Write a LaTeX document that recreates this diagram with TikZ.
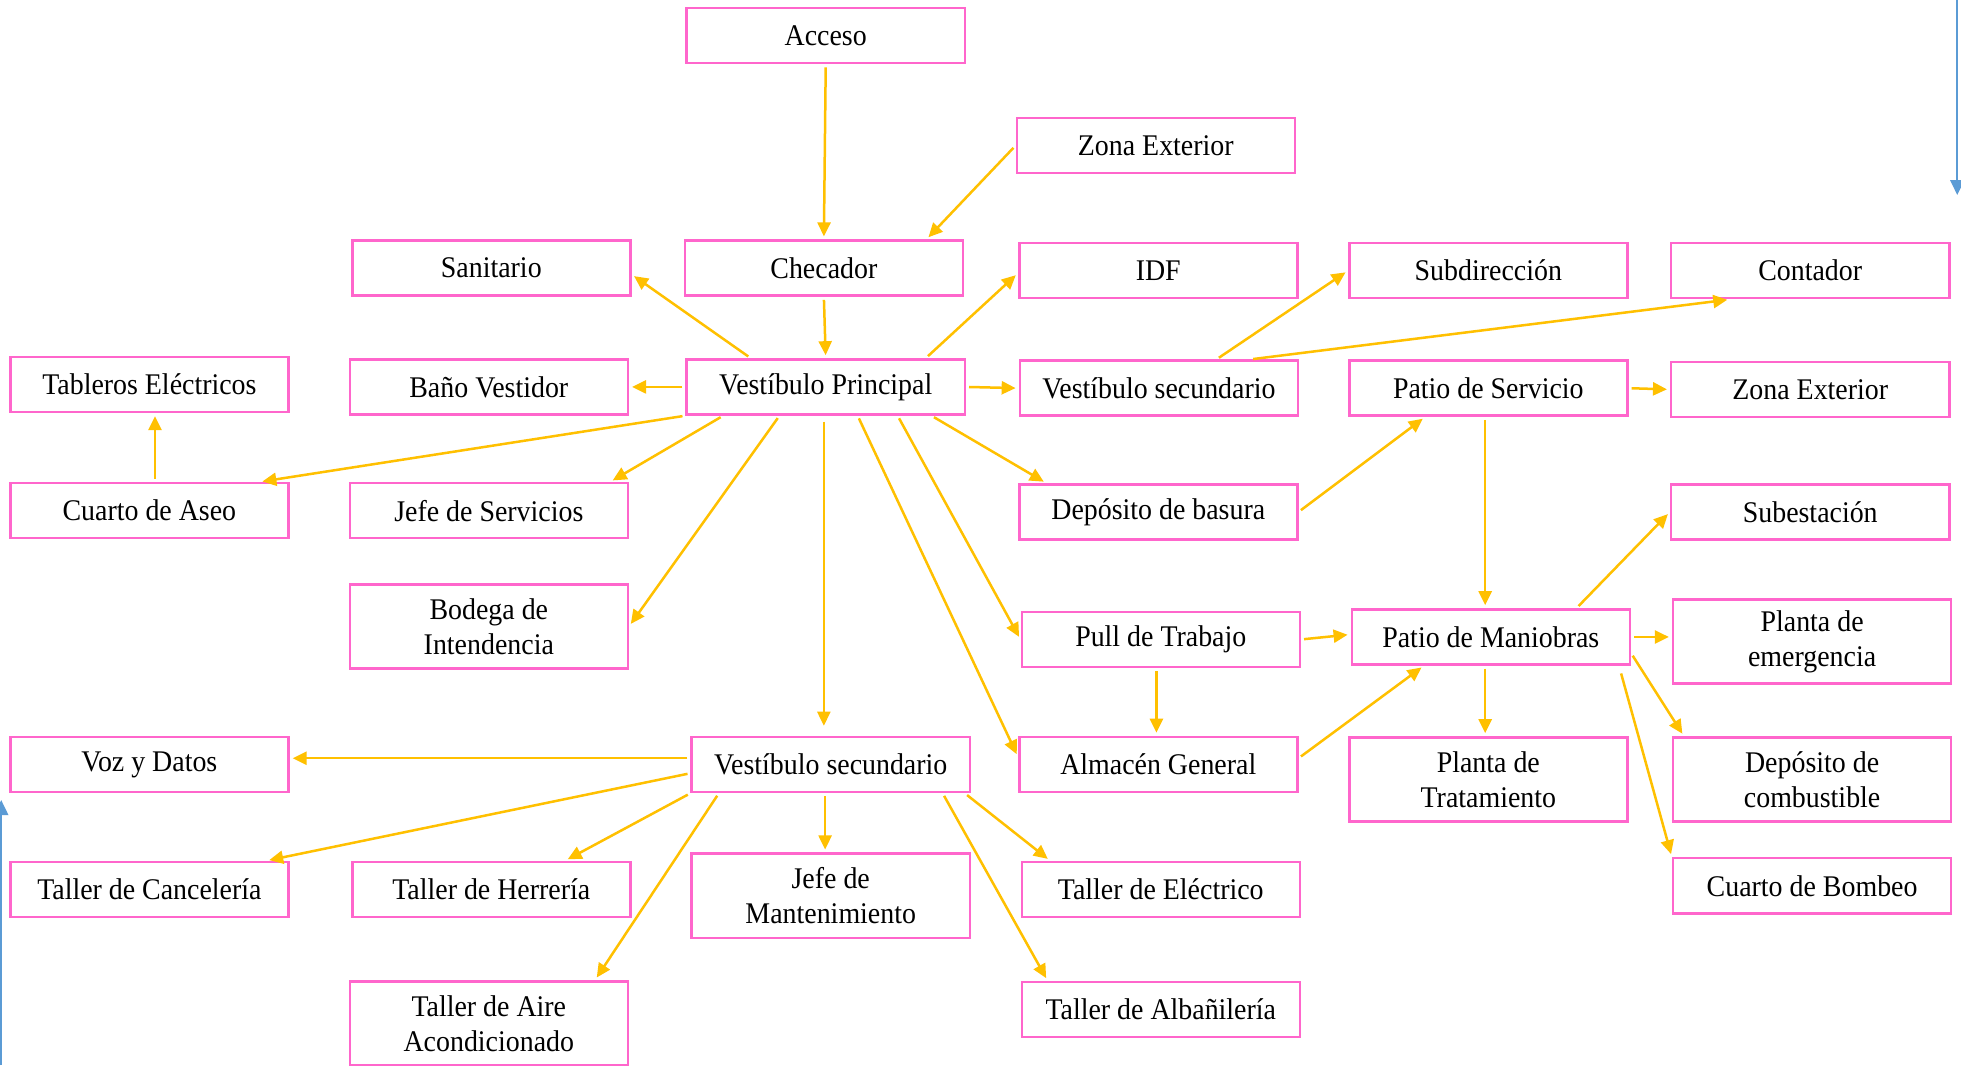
\documentclass[tikz,border=0pt]{standalone}
\usepackage{fontspec}
\setmainfont{Liberation Serif}[FakeStretch=0.93]
\usetikzlibrary{arrows.meta}
\definecolor{boxpink}{HTML}{FF66CC}
\definecolor{arrowgold}{HTML}{FFC000}
\definecolor{linkblue}{HTML}{5B9BD5}

\begin{document}
\begin{tikzpicture}[
        x=0.625pt, y=-0.625pt,
        room/.style={rectangle, draw=boxpink, line width=1.25pt, fill=white, minimum width=139pt, minimum height=27.5pt, inner sep=1pt, align=center, font=\fontsize{15}{17.5}\selectfont},
        tallroom/.style={room, minimum height=42pt},
        arrow/.style={-{Triangle[length=7pt, width=6.5pt]}, draw=arrowgold, line width=1.25pt, shorten <=1.5pt, shorten >=1.5pt},
        link/.style={-{Triangle[length=7.5pt, width=7pt]}, draw=linkblue, line width=1pt}
    ]
    \fill[white] (0,0) rectangle (1568.6,852);
    \useasboundingbox (0,0) rectangle (1568.6,852);

    \node (acceso) [room] at (660.5,28.5) {Acceso};
    \node (extnorte) [room] at (924.5,116.5) {Zona Exterior};
    \node (sanitario) [room] at (393,214.5) {Sanitario};
    \node (checador) [room] at (659,214.5) {Checador};
    \node (idf) [room] at (926.5,216.5) {IDF};
    \node (subdir) [room] at (1190.5,216.5) {Subdirección};
    \node (contador) [room] at (1448,216.5) {Contador};
    \node (tableros) [room] at (119.5,307.5) {Tableros Eléctricos};
    \node (bano) [room] at (391,309.5) {Baño Vestidor};
    \node (vprin) [room] at (660.5,309.5) {Vestíbulo Principal};
    \node (vsecA) [room] at (927,310.5) {Vestíbulo secundario};
    \node (pservicio) [room] at (1190.5,310.5) {Patio de Servicio};
    \node (extsur) [room] at (1448,311.5) {Zona Exterior};
    \node (aseo) [room] at (119.5,408.5) {Cuarto de Aseo};
    \node (jservicios) [room] at (391,408.5) {Jefe de Servicios};
    \node (basura) [room] at (926.5,409.5) {Depósito de basura};
    \node (subest) [room] at (1448,409.5) {Subestación};
    \node (bodega) [tallroom] at (391,501) {Bodega de\\Intendencia};
    \node (pull) [room] at (928.5,511.5) {Pull de Trabajo};
    \node (maniobras) [room] at (1192.5,509.5) {Patio de Maniobras};
    \node (emergencia) [tallroom] at (1449.5,513) {Planta de\\emergencia};
    \node (voz) [room] at (119.5,611.5) {Voz y Datos};
    \node (vsecB) [room] at (664.5,611.5) {Vestíbulo secundario};
    \node (almacen) [room] at (926.5,611.5) {Almacén General};
    \node (tratamiento) [tallroom] at (1190.5,623.5) {Planta de\\Tratamiento};
    \node (combustible) [tallroom] at (1449.5,623.5) {Depósito de\\combustible};
    \node (canceleria) [room] at (119.5,711.5) {Taller de Cancelería};
    \node (herreria) [room] at (393,711.5) {Taller de Herrería};
    \node (jmant) [tallroom] at (664.5,716.5) {Jefe de\\Mantenimiento};
    \node (electrico) [room] at (928.5,711.5) {Taller de Eléctrico};
    \node (bombeo) [room] at (1449.5,708.5) {Cuarto de Bombeo};
    \node (aire) [tallroom] at (391,818.5) {Taller de Aire\\Acondicionado};
    \node (albanil) [room] at (928.5,807.5) {Taller de Albañilería};

    % entrada
    \draw [arrow] (acceso.south) -- (checador.north);
    \draw [arrow] (extnorte.west) -- ([shift={(82,0)}]checador.north);
    \draw [arrow] (checador.south) -- (vprin.north);

    % vestibulo principal
    \draw [arrow] ([shift={(-60,0)}]vprin.north) -- ([shift={(0,5)}]sanitario.east);
    \draw [arrow] ([shift={(80,0)}]vprin.north) -- ([shift={(0,2)}]idf.west);
    \draw [arrow] (vprin.west) -- (bano.east);
    \draw [arrow] (vprin.east) -- (vsecA.west);
    \draw [arrow] (vprin.south west) -- ([shift={(88,0)}]aseo.north);
    \draw [arrow] ([shift={(-82,0)}]vprin.south) -- ([shift={(97,0)}]jservicios.north);
    \draw [arrow] ([shift={(-37,0)}]vprin.south) -- (bodega.east);
    \draw [arrow, shorten <=3pt, shorten >=5pt] ([shift={(-1.5,0)}]vprin.south) -- ([shift={(-5.5,0)}]vsecB.north);
    \draw [arrow] ([shift={(25.5,0)}]vprin.south) -- ([shift={(0,-6)}]almacen.west);
    \draw [arrow] ([shift={(57.5,0)}]vprin.south) -- (pull.west);
    \draw [arrow] ([shift={(84.5,0)}]vprin.south) -- ([shift={(-89.5,0)}]basura.north);
    \draw [arrow] ([shift={(4.5,0)}]aseo.north) -- ([shift={(4.5,0)}]tableros.south);

    % vestibulo secundario y patios
    \draw [arrow] ([shift={(46,0)}]vsecA.north) -- (subdir.west);
    \draw [arrow] ([shift={(73,0)}]vsecA.north) -- ([shift={(-64,0)}]contador.south);
    \draw [arrow] (basura.east) -- ([shift={(-50.5,0)}]pservicio.south);
    \draw [arrow] (pservicio.east) -- (extsur.west);
    \draw [arrow] ([shift={(-2.5,0)}]pservicio.south) -- ([shift={(-4.5,0)}]maniobras.north);
    \draw [arrow] ([shift={(68.5,0)}]maniobras.north) -- (subest.west);
    \draw [arrow] (pull.east) -- ([shift={(0,-2)}]maniobras.west);
    \draw [arrow] ([shift={(-3.5,0)}]pull.south) -- ([shift={(-1.5,0)}]almacen.north);
    \draw [arrow] ([shift={(0,-5)}]almacen.east) -- ([shift={(-53.5,0)}]maniobras.south);
    \draw [arrow] (maniobras.east) -- ([shift={(0,-3.5)}]emergencia.west);
    \draw [arrow] ([shift={(-4.5,0)}]maniobras.south) -- ([shift={(-2.5,0)}]tratamiento.north);
    \draw [arrow] ([shift={(0,13)}]maniobras.east) -- ([shift={(-102.5,0)}]combustible.north);
    \draw [arrow, shorten <=4pt] ([shift={(102.5,0)}]maniobras.south) -- (bombeo.north west);

    % vestibulo secundario inferior
    \draw [arrow] ([shift={(0,-5)}]vsecB.west) -- ([shift={(0,-5)}]voz.east);
    \draw [arrow] ([shift={(0,7)}]vsecB.west) -- ([shift={(93.5,0)}]canceleria.north);
    \draw [arrow] (vsecB.south west) -- ([shift={(59,0)}]herreria.north);
    \draw [arrow] ([shift={(-4.5,0)}]vsecB.south) -- ([shift={(-4.5,0)}]jmant.north);
    \draw [arrow] ([shift={(-89.5,0)}]vsecB.south) -- ([shift={(85,0)}]aire.north);
    \draw [arrow] ([shift={(-5,0)}]vsecB.south east) -- ([shift={(-88.5,0)}]electrico.north);
    \draw [arrow] ([shift={(89.5,0)}]vsecB.south) -- ([shift={(-90.5,0)}]albanil.north);

    % conectores de otras hojas
    \coordinate (enlaceA) at (1565.6,0);
    \coordinate (finA) at (1565.6,156);
    \coordinate (enlaceB) at (1,852);
    \coordinate (finB) at (1,640);
    \draw [link] (enlaceA) -- (finA);
    \draw [link] (enlaceB) -- (finB);

\end{tikzpicture}
\end{document}
